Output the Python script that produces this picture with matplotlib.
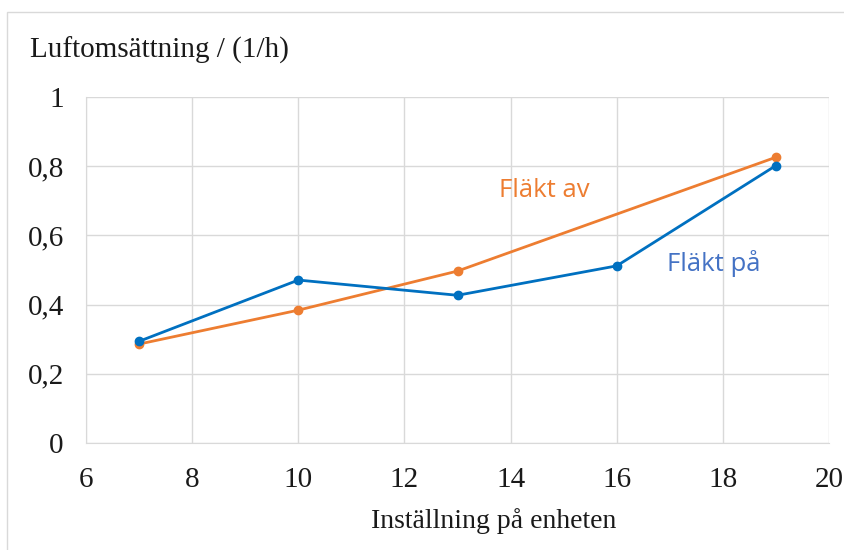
import matplotlib.pyplot as plt
from matplotlib.patches import Rectangle
from matplotlib.ticker import FuncFormatter

# data
x_pa = [7, 10, 13, 16, 19]
y_pa = [0.294, 0.471, 0.427, 0.512, 0.802]
x_av = [7, 10, 13, 19]
y_av = [0.286, 0.384, 0.497, 0.826]

blue = '#0070C0'
orange = '#ED7D31'

fig = plt.figure(figsize=(8.45, 5.5), dpi=100)
ax = fig.add_axes([0.1018, 0.1945, 0.8793, 0.6291])

ax.plot(x_av, y_av, color=orange, lw=2, marker='o', ms=6, zorder=3)
ax.plot(x_pa, y_pa, color=blue, lw=2, marker='o', ms=6, zorder=4)

ax.set_xlim(6, 20)
ax.set_ylim(0, 1)
ax.set_xticks(range(6, 21, 2))
ax.set_yticks([0, 0.2, 0.4, 0.6, 0.8, 1])
ax.yaxis.set_major_formatter(FuncFormatter(lambda v, p: ('%g' % v).replace('.', ',')))
ax.grid(True, color='#d9d9d9', lw=1)
ax.set_axisbelow(True)
for s in ['top', 'right']:
    ax.spines[s].set_visible(False)
for s in ['left', 'bottom']:
    ax.spines[s].set_color('#d9d9d9')
ax.tick_params(length=0, labelsize=21, labelcolor='#1a1a1a')
for lbl in ax.get_xticklabels() + ax.get_yticklabels():
    lbl.set_family('Liberation Serif')
ax.tick_params(axis='x', pad=17)
ax.tick_params(axis='y', pad=16)

ax.set_xlabel('Inställning på enheten', family='Liberation Serif', fontsize=20,
              color='#1a1a1a', va='center')
ax.xaxis.set_label_coords(0.548, -0.225)
fig.text(0.035, 0.908, 'Luftomsättning / (1/h)', family='Liberation Serif',
         fontsize=21, color='#1a1a1a', va='center', ha='left')

ax.text(14.63, 0.73, 'Fläkt av', color=orange, fontsize=18.5, family='Open Sans',
        ha='center', va='center')
ax.text(17.82, 0.52, 'Fläkt på', color='#4472C4', fontsize=18.5, family='Open Sans',
        ha='center', va='center')

# chart-area frame: left and top edges visible, right/bottom run off the image
fig.patches.append(Rectangle((7 / 845, -0.05), 1.1, 1 - 12 / 550 + 0.05,
                             transform=fig.transFigure, fill=False,
                             edgecolor='#d9d9d9', lw=1))

fig.savefig('out.png', dpi=100)
